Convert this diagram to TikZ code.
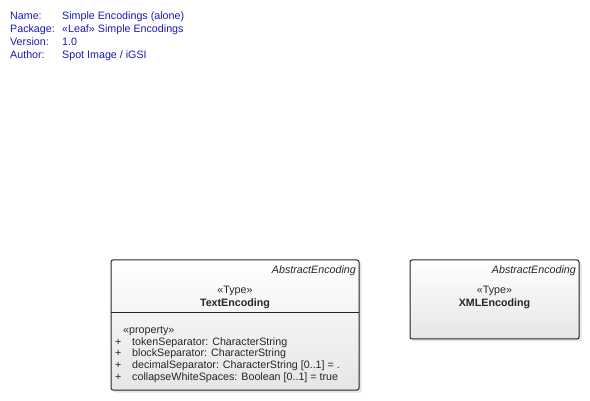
\documentclass[tikz,border=0pt]{standalone}
\usepackage{fontspec}
\setmainfont{Liberation Sans}
\usetikzlibrary{positioning}
\definecolor{mblue}{rgb}{0.1, 0.1, 0.72}
\definecolor{mgray}{rgb}{0.9, 0.9, 0.9}
\tikzset{txt/.style = {inner sep = 0, font = \fontsize{10.7}{12}\selectfont, text = black!85}}
\tikzset{meta/.style = {txt, anchor = base west, text = mblue}}
\tikzset{attr/.style = {txt, anchor = base west}}
\tikzset{stereo/.style = {txt, anchor = base}}
\tikzset{cname/.style = {txt, anchor = base, font = \fontsize{10.7}{12}\selectfont\bfseries}}
\tikzset{parent/.style = {txt, anchor = base east, font = \fontsize{10.7}{12}\selectfont\itshape}}
\tikzset{classbox/.style = {draw = black!85, line width = 1, rounded corners = 2, top color = white, bottom color = mgray}}
\tikzset{shadowbox/.style = {fill = black!10, rounded corners = 2}}

\begin{document}
\begin{tikzpicture}[x = 1pt, y = -1pt]
      \useasboundingbox (0, 0) rectangle (590, 401);

      \node [meta] (namek) at (10, 19.5) {Name:};
      \node [meta] (namev) at (62, 19.5) {Simple Encodings (alone)};
      \node [meta] (packk) at (10, 32.5) {Package:};
      \node [meta] (packv) at (62, 32.5) {«Leaf» Simple Encodings};
      \node [meta] (versk) at (10, 45.5) {Version:};
      \node [meta] (versv) at (62, 45.5) {1.0};
      \node [meta] (authk) at (10, 58.5) {Author:};
      \node [meta] (authv) at (62, 58.5) {Spot Image / iGSI};

      \fill [shadowbox] (113, 262) rectangle (361.5, 392.5);
      \draw [classbox] (111, 260) rectangle (359, 390);
      \draw [black!85, line width = 1] (111, 313) -- (359, 313);

      \node [parent] (txtpar) at (356, 273.5) {AbstractEncoding};
      \node [stereo] (txtst) at (235, 293.5) {«Type»};
      \node [cname] (txtenc) at (235, 306) {TextEncoding};
      \node [attr] (propst) at (123, 333.5) {«property»};

      \node [attr] (plus1) at (115, 345) {+};
      \node [attr] (tokensep) at (132, 345) {tokenSeparator: CharacterString};
      \node [attr] (plus2) at (115, 356.8) {+};
      \node [attr] (blocksep) at (132, 356.8) {blockSeparator: CharacterString};
      \node [attr] (plus3) at (115, 368.6) {+};
      \node [attr] (decsep) at (132, 368.6) {decimalSeparator: CharacterString [0..1] = .};
      \node [attr] (plus4) at (115, 380.4) {+};
      \node [attr] (collws) at (132, 380.4) {collapseWhiteSpaces: Boolean [0..1] = true};

      \fill [shadowbox] (412, 262) rectangle (581.5, 341.5);
      \draw [classbox] (410, 260) rectangle (579, 339);

      \node [parent] (xmlpar) at (576, 273.5) {AbstractEncoding};
      \node [stereo] (xmlst) at (494.5, 293.5) {«Type»};
      \node [cname] (xmlenc) at (494.5, 306) {XMLEncoding};
    \end{tikzpicture}
\end{document}
